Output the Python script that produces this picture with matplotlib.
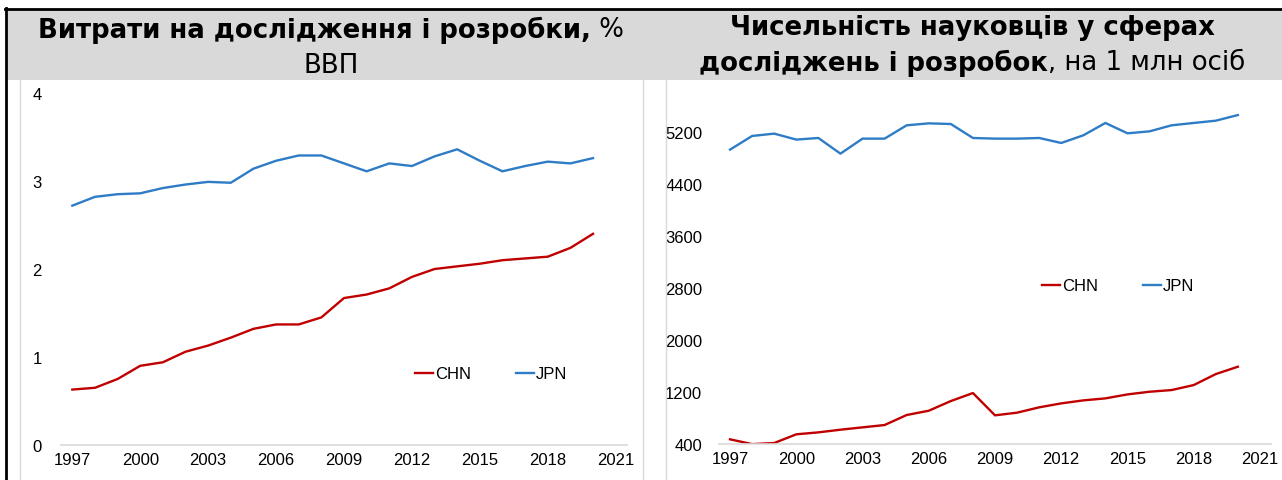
import matplotlib
matplotlib.use('Agg')
import matplotlib.pyplot as plt
from matplotlib.patches import Rectangle
from matplotlib.lines import Line2D

# дані
years = list(range(1997, 2021))
rd_chn = [0.63, 0.65, 0.75, 0.90, 0.94, 1.06, 1.13, 1.22, 1.32, 1.37, 1.37, 1.45,
          1.67, 1.71, 1.78, 1.91, 2.00, 2.03, 2.06, 2.10, 2.12, 2.14, 2.24, 2.40]
rd_jpn = [2.72, 2.82, 2.85, 2.86, 2.92, 2.96, 2.99, 2.98, 3.14, 3.23, 3.29, 3.29,
          3.20, 3.11, 3.20, 3.17, 3.28, 3.36, 3.23, 3.11, 3.17, 3.22, 3.20, 3.26]
res_chn = [472, 398, 415, 549, 579, 620, 656, 692, 846, 912, 1061, 1184,
           841, 882, 964, 1025, 1071, 1102, 1163, 1204, 1230, 1307, 1476, 1589]
res_jpn = [4929, 5139, 5175, 5083, 5108, 4867, 5098, 5098, 5303, 5333, 5323, 5108,
           5098, 5098, 5108, 5031, 5149, 5339, 5180, 5210, 5303, 5339, 5374, 5461]
xticks = [1997, 2000, 2003, 2006, 2009, 2012, 2015, 2018, 2021]
rd_yticks = [0, 1, 2, 3, 4]
res_yticks = [400, 1200, 2000, 2800, 3600, 4400, 5200]

RED = '#C00000'
BLUE = '#2E7CC6'
GRID = '#D9D9D9'
W, H = 1282, 481

fig = plt.figure(figsize=(W / 100, H / 100), dpi=100)
fig.patch.set_facecolor('white')


def fx(x):
    return x / W


def fy(y):
    return 1 - y / H


def style(ax, ypad):
    for s in ['top', 'right', 'left']:
        ax.spines[s].set_visible(False)
    ax.spines['bottom'].set_color(GRID)
    ax.spines['bottom'].set_linewidth(1.2)
    ax.tick_params(axis='both', length=0, labelsize=12, colors='black')
    ax.tick_params(axis='x', pad=5)
    ax.tick_params(axis='y', pad=ypad)
    ax.set_xlim(1996.5, 2021.5)
    ax.set_xticks(xticks)
    ax.set_xticklabels([str(x) for x in xticks], family='Liberation Sans')


# ліва діаграма
ax1 = fig.add_axes([fx(61), fy(446), (627 - 61) / W, (446 - 94) / H])
ax1.plot(years, rd_chn, color=RED, lw=1.7, label='CHN')
ax1.plot(years, rd_jpn, color=BLUE, lw=1.7, label='JPN')
ax1.set_ylim(0, 4)
ax1.set_yticks(rd_yticks)
ax1.set_yticklabels([str(v) for v in rd_yticks], family='Liberation Sans')
style(ax1, 14)

# права діаграма
ax2 = fig.add_axes([fx(719), fy(445), (1271 - 719) / W, (445 - 81) / H])
ax2.plot(years, res_chn, color=RED, lw=1.7, label='CHN')
ax2.plot(years, res_jpn, color=BLUE, lw=1.7, label='JPN')
ax2.set_ylim(400, 6000)
ax2.set_yticks(res_yticks)
ax2.set_yticklabels([str(v) for v in res_yticks], family='Liberation Sans')
style(ax2, 12)

for ax, cx, cy in [(ax1, 491, 375), (ax2, 1118, 287)]:
    ax.legend(loc='center', bbox_to_anchor=(fx(cx), fy(cy)), bbox_transform=fig.transFigure,
              ncol=2, frameon=False, handlelength=1.1, handletextpad=0.1,
              columnspacing=2.7, prop={'family': 'Liberation Sans', 'size': 12})

# рамки і шапка
fig.add_artist(Rectangle((fx(7), fy(81)), 1 - fx(7), (81 - 11) / H, transform=fig.transFigure,
                         facecolor=GRID, edgecolor='none', zorder=5))
fig.add_artist(Line2D([fx(5), 1], [fy(10), fy(10)], color='black', lw=2, zorder=6))
fig.add_artist(Line2D([fx(6), fx(6)], [fy(9), 0], color='black', lw=2, zorder=6))
for xv in [20, 643, 666]:
    fig.add_artist(Line2D([fx(xv), fx(xv)], [fy(81), 0], color=GRID, lw=1, zorder=4))

renderer = fig.canvas.get_renderer()
TFONT = 'DejaVu Sans'
TSIZE = 18.7


def title_line(parts, cx, cy):
    texts = []
    for s, w in parts:
        t = fig.text(0, fy(cy), s, fontsize=TSIZE, fontweight=w, family=TFONT,
                     ha='left', va='center', zorder=7)
        texts.append(t)
    widths = [t.get_window_extent(renderer).width for t in texts]
    x = cx - sum(widths) / 2
    for t, wd in zip(texts, widths):
        t.set_x(fx(x))
        x += wd


title_line([('Витрати на дослідження і розробки,', 'bold'), (' %', 'normal')], 331, 30)
title_line([('ВВП', 'normal')], 331, 66)
title_line([('Чисельність науковців у сферах', 'bold')], 972, 28)
title_line([('досліджень і розробок', 'bold'), (', на 1 млн осіб', 'normal')], 972, 63)

fig.savefig('out.png', dpi=100)
